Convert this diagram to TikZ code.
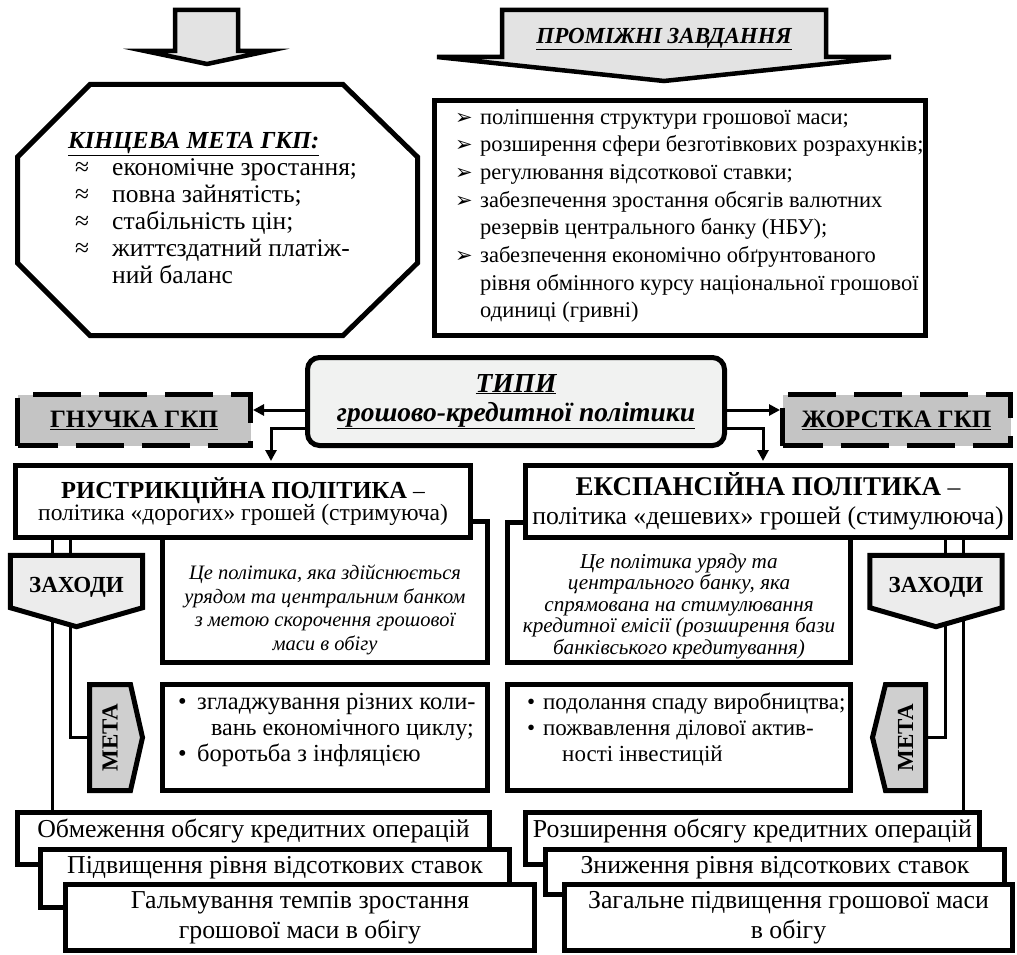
\documentclass[tikz,border=0pt]{standalone}
\usepackage{fontspec}
\setmainfont{Liberation Serif}
\newfontfamily\symfont{DejaVu Sans}
\usetikzlibrary{arrows.meta,backgrounds}

\definecolor{arrowfill}{HTML}{E3E3E3}
\definecolor{typesfill}{HTML}{F1F2F1}
\definecolor{dashfill}{HTML}{C4C4C4}
\definecolor{zakhfill}{HTML}{ECECEC}
\definecolor{metafill}{HTML}{CFCFCF}

\newcommand{\undr}[1]{\underline{#1}}
\newcommand{\tsk}{\makebox[25pt][l]{\symfont\fontsize{21}{21}\selectfont ➢}}
\newcommand{\tskc}{\hspace*{25pt}}
\newcommand{\apx}{\hspace*{7pt}\makebox[37pt][l]{≈}}
\newcommand{\apxc}{\hspace*{44pt}}

\begin{document}
\begin{tikzpicture}[
      x=1pt, y=-1pt,
      inner sep=0pt,
      box/.style={draw, line width=5pt, fill=white},
      bigarrow/.style={draw, line width=4.5pt, fill=arrowfill},
      octa/.style={draw, line width=5pt, fill=white},
      types/.style={draw, line width=5pt, fill=typesfill, rounded corners=12pt,
        align=center, font=\fontsize{27.5}{29}\selectfont\bfseries\itshape},
      dashbox/.style={draw, line width=5pt, fill=dashfill, dash pattern=on 48pt off 18pt,
        dash phase=8pt, font=\fontsize{25}{27}\selectfont\bfseries},
      link/.style={line width=3pt},
      arr/.style={link, -{Triangle[length=11pt,width=11pt]}},
      zakh/.style={minimum width=132pt, minimum height=52pt, text height=22pt, text depth=0pt,
        font=\fontsize{23}{26}\selectfont\bfseries},
      zshape/.style={draw, line width=5pt, fill=zakhfill},
      meta/.style={rotate=90, minimum width=106pt, font=\fontsize{23}{25}\selectfont\bfseries},
      mshape/.style={draw, line width=5pt, fill=metafill},
      main/.style={font=\fontsize{25.8}{30}\selectfont},
      desc/.style={align=center, font=\fontsize{20.5}{23.5}\selectfont\itshape},
      bul/.style={align=left, font=\fontsize{24.5}{26}\selectfont}
    ]
    \useasboundingbox (0,0) rectangle (1017,955);

    % top row
    \draw[bigarrow] (175,10) -- (238,10) -- (238,51) -- (268,51) -- (207,64)
      -- (145,51) -- (175,51) -- cycle;
    \draw[octa] (90,84.5) -- (343,84.5) -- (417.5,157) -- (417.5,263) -- (343,335.5)
      -- (90,335.5) -- (17.5,263) -- (17.5,157) -- cycle;
    \node[align=left, anchor=north west, font=\fontsize{25.5}{27}\selectfont] (goal) at (68,132)
      {{\fontsize{24.5}{27}\selectfont\bfseries\itshape\undr{КІНЦЕВА МЕТА ГКП:}}\\
       \apx економічне зростання;\\
       \apx повна зайнятість;\\
       \apx стабільність цін;\\
       \apx життєздатний платіж-\\
       \apxc ний баланс};

    \draw[bigarrow] (502,10) -- (826,10) -- (826,57) -- (891,57) -- (664,81)
      -- (437,57) -- (502,57) -- cycle;
    \node[font=\fontsize{23}{25}\selectfont\bfseries\itshape] (midtitle) at (664,39)
      {\undr{ПРОМІЖНІ ЗАВДАННЯ}};
    \node[box, minimum width=491pt, minimum height=235pt] (tasks) at (680,218) {};
    \node[align=left, anchor=north west, font=\fontsize{22.5}{27.7}\selectfont] (tasklist) at (455,109)
      {\tsk поліпшення структури грошової маси;\\
       \tsk розширення сфери безготівкових розрахунків;\\
       \tsk регулювання відсоткової ставки;\\
       \tsk забезпечення зростання обсягів валютних\\
       \tskc резервів центрального банку (НБУ);\\
       \tsk забезпечення економічно обґрунтованого\\
       \tskc рівня обмінного курсу національної грошової\\
       \tskc одиниці (гривні)};

    % types
    \node[types, minimum width=417pt, minimum height=88pt] (types) at (516,401.5)
      {\undr{ТИПИ}\\ \undr{грошово-кредитної політики}};
    \node[dashbox, minimum width=233pt, minimum height=51pt] (gnuch) at (134,420)
      {\undr{ГНУЧКА ГКП}};
    \node[dashbox, minimum width=228pt, minimum height=51pt] (zhorst) at (896.5,420)
      {\undr{ЖОРСТКА ГКП}};

    % policies
    \node[box, minimum width=325pt, minimum height=141pt] (descL) at (325,592) {};
    \node[box, minimum width=343pt, minimum height=140pt] (descR) at (679,592.5) {};
    \node[desc] (descLt) at (325,610)
      {Це політика, яка здійснюється\\ урядом та центральним банком\\
       з метою скорочення грошової\\ маси в обігу};
    \node[desc, font=\fontsize{21.2}{21.5}\selectfont\itshape] (descRt) at (679,606)
      {Це політика уряду та\\ центрального банку, яка\\ спрямована на стимулювання\\
       кредитної емісії (розширення бази\\ банківського кредитування)};
    \node[box, minimum width=455pt, minimum height=72pt, align=center,
      font=\fontsize{23.5}{21.5}\selectfont] (restr) at (243,501.5)
      {{\bfseries\fontsize{24.5}{21.5}\selectfont РИСТРИКЦІЙНА ПОЛІТИКА} –\\
       політика «дорогих» грошей (стримуюча)};
    \node[box, minimum width=485pt, minimum height=72pt, align=center,
      font=\fontsize{25.7}{29}\selectfont] (eksp) at (768,501.5)
      {{\bfseries\fontsize{27}{29}\selectfont ЕКСПАНСІЙНА ПОЛІТИКА} –\\
       політика «дешевих» грошей (стимулююча)};

    \node[box, minimum width=325pt, minimum height=106pt] (bulL) at (325,737.5) {};
    \node[bul, anchor=north west] (bulLt) at (178,693)
      {\makebox[19pt][l]{•}згладжування різних коли-\\
       \hspace*{33pt}{\fontsize{24}{26}\selectfont вань економічного циклу;}\\
       \makebox[19pt][l]{•}боротьба з інфляцією};
    \node[box, minimum width=343pt, minimum height=106pt] (bulR) at (679,737.5) {};
    \node[bul, anchor=north west, font=\fontsize{23}{26}\selectfont] (bulRt) at (527,693)
      {\makebox[16pt][l]{•}подолання спаду виробництва;\\
       \makebox[16pt][l]{•}пожвавлення ділової актив-\\
       \hspace*{35pt}ності інвестицій};

    % measures
    \node[box, main, minimum width=472pt, text height=24.5pt, text depth=27.5pt] (obmL) at (253.5,838.5)
      {Обмеження обсягу кредитних операцій};
    \node[box, main, minimum width=469pt, text height=23.5pt, text depth=34.5pt] (pidL) at (275,878.5)
      {Підвищення рівня відсоткових ставок};
    \node[box, main, minimum width=469pt, minimum height=66pt, align=center] (galL) at (300,917.5)
      {Гальмування темпів зростання\\ грошової маси в обігу};
    \node[box, main, minimum width=454pt, text height=24.5pt, text depth=27.5pt] (rozR) at (752.5,838.5)
      {Розширення обсягу кредитних операцій};
    \node[box, main, minimum width=459pt, text height=23.5pt, text depth=21.5pt] (znyR) at (775,872)
      {Зниження рівня відсоткових ставок};
    \node[box, main, minimum width=448pt, minimum height=66pt, align=center] (zagR) at (788.5,917.5)
      {Загальне підвищення грошової маси\\ в обігу};

    \node[zakh] (zakhL) at (76.5,581.5) {ЗАХОДИ};
    \node[zakh] (zakhR) at (936,581.5) {ЗАХОДИ};
    \node[meta, minimum height=41pt] (metaL) at (110,737.5) {МЕТА};
    \node[meta, minimum height=40pt] (metaR) at (905.5,737.5) {МЕТА};

    % arrows from types
    \coordinate (tL) at ([yshift=-8.5pt]types.west);
    \coordinate (tL2) at ([yshift=-26.5pt]types.west);
    \coordinate (tR) at ([yshift=-8.5pt]types.east);
    \coordinate (tR2) at ([yshift=-26.5pt]types.east);
    \draw[arr] (tL) -- (tL -| gnuch.east);
    \draw[arr] (tR) -- (tR -| zhorst.west);
    \draw[arr, shorten >=2pt] (tL2) -| ([xshift=28pt]restr.north);
    \draw[arr, shorten >=2pt] (tR2) -| ([xshift=-5pt]eksp.north);

    \coordinate (zLa) at ([xshift=-24.5pt]zakhL.north);
    \coordinate (zLb) at ([xshift=-6.5pt]zakhL.north);
    \coordinate (zRa) at ([xshift=9pt]zakhR.north);
    \coordinate (zRb) at ([xshift=27pt]zakhR.north);
    \begin{pgfonlayer}{background}
      \draw[link] (zLa |- restr.south) -- (zLa |- obmL.north);
      \draw[link] (zLb |- restr.south) -- (zLb |- metaL.north) -- (metaL.north);
      \draw[link] (zRb |- eksp.south) -- (zRb |- rozR.north);
      \draw[link] (zRa |- eksp.south) -- (zRa |- metaR.south) -- (metaR.south);
      \draw[zshape] (zakhL.north west) -- (zakhL.north east) -- (zakhL.south east)
        -- ([yshift=-19pt]zakhL.south) -- (zakhL.south west) -- cycle;
      \draw[zshape] (zakhR.north west) -- (zakhR.north east) -- (zakhR.south east)
        -- ([yshift=-19pt]zakhR.south) -- (zakhR.south west) -- cycle;
      \draw[mshape] (metaL.center) ++(-20.5,-53) -- ++(41,0) -- ++(12,53) -- ++(-12,53)
        -- ++(-41,0) -- cycle;
      \draw[mshape] (metaR.center) ++(20,-53) -- ++(-40,0) -- ++(-13,53) -- ++(13,53)
        -- ++(40,0) -- cycle;
    \end{pgfonlayer}
  \end{tikzpicture}
\end{document}
